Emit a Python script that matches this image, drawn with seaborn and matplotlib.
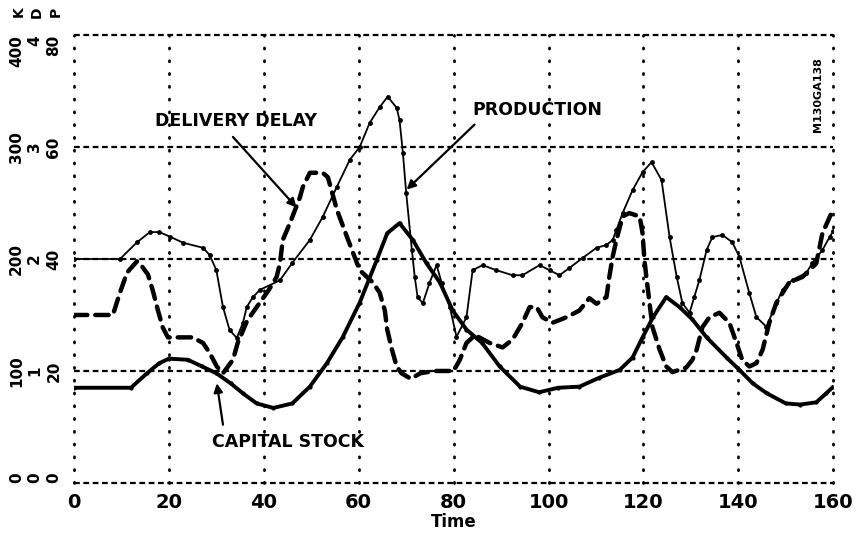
import matplotlib
matplotlib.use('Agg')
import matplotlib.pyplot as plt
import seaborn as sns

sns.set_theme(style='white')
plt.rcParams['font.family'] = ['DejaVu Sans']
plt.rcParams['font.weight'] = 'bold'
plt.rcParams['text.color'] = 'black'
plt.rcParams['axes.labelcolor'] = 'black'
plt.rcParams['xtick.color'] = 'black'
plt.rcParams['ytick.color'] = 'black'

# capital stock (echelle K, 0-400)
temps_k = [0, 12, 15.4, 18, 20, 24, 27, 30, 33, 35.6, 38.5, 42, 46, 49.7, 53.3,
           56.6, 60.2, 63.8, 66, 68.6, 71.4, 74.3, 77.1, 79.8, 82.7, 86, 89.7,
           94, 98, 102, 106.5, 110.7, 115, 117.7, 119.8, 122, 124.8, 127.6,
           130.3, 133.3, 137.5, 140.2, 143, 146, 150, 153, 156.4, 158.5, 160]
capital_stock = [85, 85, 98, 107, 111, 110, 104, 98, 89, 80, 71, 67, 71, 86, 107,
                 130, 161, 199, 223, 232, 217, 196, 179, 154, 137, 125, 104,
                 86, 81, 85, 86, 94, 101, 112, 130, 148, 166, 157,
                 146, 130, 112, 101, 89, 80, 71, 70, 72, 80, 86]

# delivery delay (echelle D, 0-4)
temps_d = [0, 8.2, 9.7, 11.2, 13.3, 13.9, 15.6, 16.6, 17.7, 18.7, 19.8, 25, 27.2,
           28.6, 30.1, 31.4, 33.5, 34.5, 36.5, 39, 41, 42.7, 43.4, 44, 45.5,
           47.6, 48.2, 49.7, 52.4, 53.5, 55.4, 57.5, 60.2, 63, 64.4, 65.5, 66,
           67, 68, 69, 71, 73, 76, 80, 81.3, 82.7, 84.5, 87.6, 90.3, 92.4, 94.5,
           96, 97.5, 98.7, 100.8, 103.8, 106.5, 108.6, 110.1, 112.2, 112.8,
           113.5, 114.3, 115.6, 117, 119.2, 119.8, 120.2, 120.6, 121.9, 123.4,
           124.8, 126.1, 129, 130.3, 131.2, 132.4, 133.9, 136, 138.1, 139.6,
           140.8, 142.3, 143.8, 145.1, 146.5, 148, 150.7, 153.5, 156.4, 157.7,
           159.6, 160]
delivery_delay = [1.5, 1.5, 1.7, 1.88, 1.98, 1.96, 1.86, 1.72, 1.54, 1.39, 1.3, 1.3, 1.25,
                  1.16, 1.04, 0.98, 1.1, 1.25, 1.45, 1.6, 1.72, 1.84, 1.96, 2.17, 2.32,
                  2.55, 2.64, 2.77, 2.77, 2.73, 2.44, 2.2, 1.9, 1.79, 1.7, 1.54, 1.37,
                  1.19, 1.04, 0.98, 0.93, 0.98, 1.0, 1.0, 1.1, 1.25, 1.32, 1.25, 1.21, 1.28, 1.43,
                  1.57, 1.57, 1.48, 1.43, 1.48, 1.54, 1.65, 1.6, 1.66, 1.84,
                  2.02, 2.17, 2.38, 2.41, 2.38, 2.23, 1.99, 1.84, 1.39, 1.19,
                  1.04, 0.99, 1.03, 1.1, 1.19, 1.39, 1.48, 1.52, 1.43, 1.25,
                  1.1, 1.04, 1.07, 1.19, 1.43, 1.61, 1.79, 1.84, 1.96, 2.23,
                  2.41, 2.42]

# production (echelle P, 0-80)
temps_p = [0, 9.7, 13.3, 16, 18, 20.2, 23, 27.2, 28.6, 30, 31.4, 32.8, 34.3, 35.6,
           36.4, 37.7, 39.2, 43.4, 46, 49.7, 52.4, 55.4, 58.1, 60.2, 62.3, 64.4,
           66.1, 68, 68.6, 69.3, 70, 71.2, 71.8, 72.4, 73.5, 74.9, 76.4, 77.5,
           79.2, 80.6, 82.7, 84, 86.1, 89, 92.4, 94.5, 98.1, 100.2, 102.3, 104.4,
           107.2, 110.1, 112.2, 113.5, 114.3, 115.6, 117.7, 119.8, 121.7, 123.8,
           125.5, 127, 128.2, 129.7, 130.7, 131.8, 133.3, 134.5, 136.6, 138.7,
           140.2, 142.3, 143.8, 145.9, 148, 149.3, 151.4, 154.3, 155.6, 157.7,
           159.2, 160]
production = [40, 40, 43, 44.8, 44.8, 44, 42.9, 42, 40.7, 38, 31.4, 27.3, 25.9, 28.6,
              31.4, 33.2, 34.5, 36.2, 39.3, 43.4, 47.5, 52.9, 57.7, 60, 64.3, 67.1,
              69, 67, 64.8, 59, 51.8, 41.6, 36.8, 33.2, 32.1, 35.7, 38.9, 35.7,
              31.4, 26.1, 29.6, 38, 38.9, 38, 37.1, 37.1, 38.9, 38, 37.1, 38.4,
              40.2, 42, 42.5, 43.4, 45.2, 48.2, 52.3, 55.5, 57.3, 54.1,
              43.9, 36.8, 32.1, 30.4, 33.2, 36.3, 41.6, 43.9, 44.3, 43,
              40.4, 33.9, 29.6, 27.9, 32.1, 34.5, 36.3, 37.5, 39.3, 41.6,
              43.9, 45]

x_ticks = [0, 20, 40, 60, 80, 100, 120, 140, 160]
k_ticks = [0, 100, 200, 300, 400]
d_ticks = [0, 1, 2, 3, 4]
p_ticks = [0, 20, 40, 60, 80]


fig = plt.figure(figsize=(8.6, 5.39), dpi=100)
ax = fig.add_axes([0.086, 0.104, 0.883, 0.831])
ax_d = ax.twinx()
ax_p = ax.twinx()

for a in (ax, ax_d, ax_p):
    a.set_xlim(0, 160)
    for s in a.spines.values():
        s.set_visible(False)
ax.set_ylim(0, 400)
ax_d.set_ylim(0, 4)
ax_p.set_ylim(0, 80)

# grille : pointillés verticaux, tirets horizontaux
ax.set_xticks(x_ticks)
ax.set_yticks(k_ticks)
ax.xaxis.grid(True, color='black', lw=2, ls=(0, (0.4, 4.2)), dash_capstyle='round')
ax.yaxis.grid(True, color='black', lw=1.6, ls=(0, (2.6, 1.6)))
for l in ax.get_xgridlines() + ax.get_ygridlines():
    l.set_clip_on(False)

sns.lineplot(x=temps_k, y=capital_stock, ax=ax, color='black', lw=2.8,
             marker='o', markersize=3, markeredgewidth=0)
sns.lineplot(x=temps_d, y=delivery_delay, ax=ax_d, color='black', lw=3.2,
             linestyle=(0, (3, 1.8)), dash_capstyle='round')
sns.lineplot(x=temps_p, y=production, ax=ax_p, color='black', lw=1.3,
             marker='o', markersize=3.5, markeredgewidth=0)

# axes et étiquettes
ax.set_xticklabels([str(v) for v in x_ticks], fontsize=14, fontweight='bold')
ax.tick_params(axis='x', length=0, pad=7)
ax.set_xlabel('Time', fontsize=12, fontweight='bold', labelpad=1)


def etiquettes_gauche(axe, ticks, pad):
    axe.yaxis.tick_left()
    axe.set_yticks(ticks)
    labs = axe.set_yticklabels([str(v) for v in ticks], rotation=90, fontsize=11,
                               fontweight='bold', va='center')
    labs[-1].set_va('top')
    labs[0].set_va('bottom')
    axe.tick_params(axis='y', length=0, pad=pad)
    axe.set_ylabel('')


etiquettes_gauche(ax, k_ticks, 36)
etiquettes_gauche(ax_d, d_ticks, 23)
etiquettes_gauche(ax_p, p_ticks, 9)

for lettre, xpos in zip(['K', 'D', 'P'], [19, 37, 56]):
    fig.text(xpos / 860, 1 - 12 / 539, lettre, rotation=90, fontsize=10,
             fontweight='bold', ha='center', va='center')

# annotations
fleche = dict(arrowstyle='-|>', color='black', lw=1.6, mutation_scale=13,
              shrinkA=0, shrinkB=0)
ax.text(34.1, 323, 'DELIVERY DELAY', fontsize=12.5, fontweight='bold',
        ha='center', va='center')
ax.annotate('', xy=(46.9, 246), xytext=(33.5, 309), arrowprops=fleche)
ax.text(97.7, 333, 'PRODUCTION', fontsize=12.5, fontweight='bold',
        ha='center', va='center')
ax.annotate('', xy=(70.1, 262), xytext=(84.4, 320), arrowprops=fleche)
ax.text(45, 37, 'CAPITAL STOCK', fontsize=12.5, fontweight='bold',
        ha='center', va='center')
ax.annotate('', xy=(30.1, 89), xytext=(31.4, 52), arrowprops=fleche)

fig.text(818 / 860, 1 - 95 / 539, 'M130GA138', rotation=90, fontsize=8,
         fontweight='bold', ha='center', va='center')

fig.savefig('out.png', dpi=100)
